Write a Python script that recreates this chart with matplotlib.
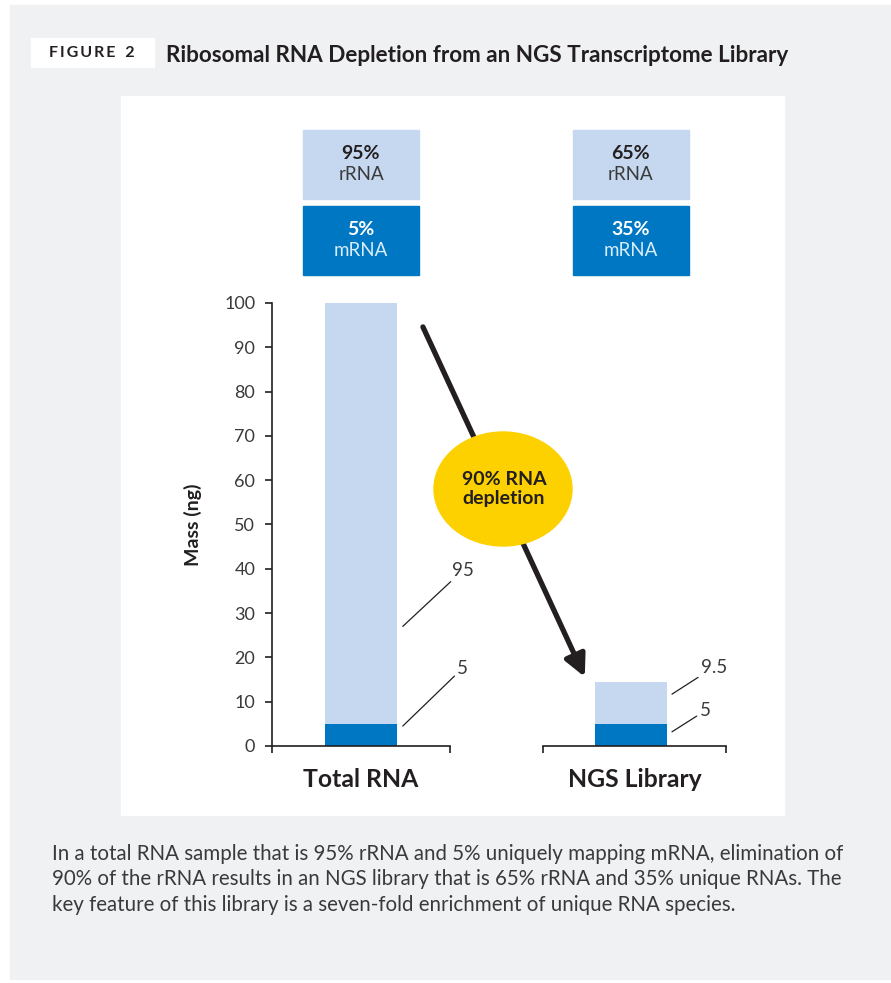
import matplotlib
matplotlib.use("Agg")
import matplotlib.pyplot as plt
from matplotlib.patches import Rectangle, Ellipse

plt.rcParams['font.family'] = ['Lato', 'DejaVu Sans']

# data
categories = ['Total RNA', 'NGS Library']
mrna = [5, 5]
rrna = [95, 9.5]
rrna_pct = ['95%', '65%']
mrna_pct = ['5%', '35%']

LIGHT = '#c5d8ef'
DARK = '#0077c2'
INK = '#231f20'
GRAY_BG = '#f0f1f3'
YELLOW = '#fdd100'

W, H = 891, 983
fig = plt.figure(figsize=(W / 100, H / 100), dpi=100)


def fx(px):
    return px / W


def fy(py):
    return 1 - py / H


# background panels
fig.add_artist(Rectangle((fx(10), fy(979)), fx(881), (974) / H,
                         transform=fig.transFigure, color=GRAY_BG, zorder=-10))
fig.add_artist(Rectangle((fx(121), fy(815)), fx(663), 719 / H,
                         transform=fig.transFigure, color='white', zorder=-9))
fig.add_artist(Rectangle((fx(31), fy(67)), fx(123), 29 / H,
                         transform=fig.transFigure, color='white', zorder=-9))
fig.text(fx(92), fy(53), 'F\u2009I\u2009G\u2009U\u2009R\u2009E\u2009\u2009\u2009 2', ha='center', va='center',
         fontsize=11.5, fontweight='bold', color=INK)
fig.text(fx(166), fy(55), 'Ribosomal RNA Depletion from an NGS Transcriptome Library',
         ha='left', va='center', fontsize=16.2, fontweight='bold', color=INK)

caption = ('In a total RNA sample that is 95% rRNA and 5% uniquely mapping mRNA, elimination of\n'
           '90% of the rRNA results in an NGS library that is 65% rRNA and 35% unique RNAs. The\n'
           'key feature of this library is a seven-fold enrichment of unique RNA species.')
fig.text(fx(52), fy(844), caption, ha='left', va='top', fontsize=14.8,
         color='#3a3a3a', linespacing=1.33)

# two axes segments with a shared y scale
bottom = fy(746)
height = (746 - 303) / H
ax1 = fig.add_axes([fx(272), bottom, fx(178), height])
ax2 = fig.add_axes([fx(543), bottom, fx(183), height])
xlims = [(-1.236, 1.236), (-1.22, 1.32)]
bar_w = 1.0

for i, ax in enumerate([ax1, ax2]):
    ax.set_facecolor('none')
    ax.bar(0, mrna[i], width=bar_w, color=DARK, zorder=2)
    ax.bar(0, rrna[i], bottom=mrna[i], width=bar_w, color=LIGHT, zorder=2)
    ax.set_xlim(*xlims[i])
    ax.set_ylim(0, 100)
    for s in ['top', 'right']:
        ax.spines[s].set_visible(False)
    ax.spines['bottom'].set_linewidth(1.2)
    ax.spines['bottom'].set_color(INK)
    ax.spines['left'].set_linewidth(1.2)
    ax.spines['left'].set_color(INK)
    ax.set_xticks(xlims[i])
    ax.set_xticklabels([])
    ax.tick_params(axis='x', length=5, width=1.2, color=INK)
    ax.set_xlabel(categories[i], fontsize=17.8, fontweight='bold', color=INK, labelpad=7)

    # percentage boxes above each bar
    box_w = 1.61
    for (y0, y1, face, pct, name, c1, c2) in [
            (123.5, 139.0, LIGHT, rrna_pct[i], 'rRNA', INK, '#3a3a3a'),
            (106.3, 121.9, DARK, mrna_pct[i], 'mRNA', 'white', '#d9ecfa')]:
        ax.add_patch(Rectangle((-box_w / 2, y0), box_w, y1 - y0, color=face, clip_on=False))
        ym = (y0 + y1) / 2
        ax.text(0, ym + 2.5, pct, ha='center', va='center', fontsize=14,
                fontweight='bold', color=c1, clip_on=False)
        ax.text(0, ym - 2.3, name, ha='center', va='center', fontsize=13.5,
                color=c2, clip_on=False)

ax1.set_yticks(range(0, 101, 10))
ax1.tick_params(axis='y', length=5, width=1.2, color=INK, labelsize=13,
                labelcolor='#3a3a3a', pad=7)
ax1.set_ylabel('Mass (ng)', fontsize=14, fontweight='bold', color=INK, labelpad=16)
ax2.spines['left'].set_visible(False)
ax2.set_yticks([])

# value callouts
leader = dict(arrowstyle='-', lw=0.9, color=INK, shrinkA=0, shrinkB=0)
callouts = [
    (ax1, rrna[0], 0.58, 27.0, (60, 56)),
    (ax1, mrna[0], 0.58, 4.5, (60, 58)),
    (ax2, rrna[1], 0.57, 11.7, (42, 27)),
    (ax2, mrna[1], 0.57, 3.2, (33, 21)),
]
for ax, val, x, y, off in callouts:
    ax.annotate(f'{val:g}', xy=(x, y), xytext=off, textcoords='offset pixels',
                ha='center', va='center', fontsize=13.5, color='#3a3a3a',
                arrowprops=leader, annotation_clip=False)

# depletion arrow from the total RNA bar down to the library bar
ax2.annotate('', xy=(-0.64, 15.6), xycoords='data',
             xytext=(0.86, 94.6), textcoords=ax1.transData,
             arrowprops=dict(arrowstyle='-|>,head_length=1.3,head_width=0.65',
                             lw=3.8, color=INK, shrinkA=0, shrinkB=0),
             annotation_clip=False)

fig.add_artist(Ellipse((fx(503), fy(489)), fx(138), 114 / H,
                       transform=fig.transFigure, color=YELLOW, zorder=5))
fig.text(fx(504), fy(489), '90% RNA\ndepletion', ha='center', va='center',
         fontsize=14, fontweight='bold', color=INK, zorder=6, linespacing=1.15)

fig.savefig('out.png', dpi=100)
